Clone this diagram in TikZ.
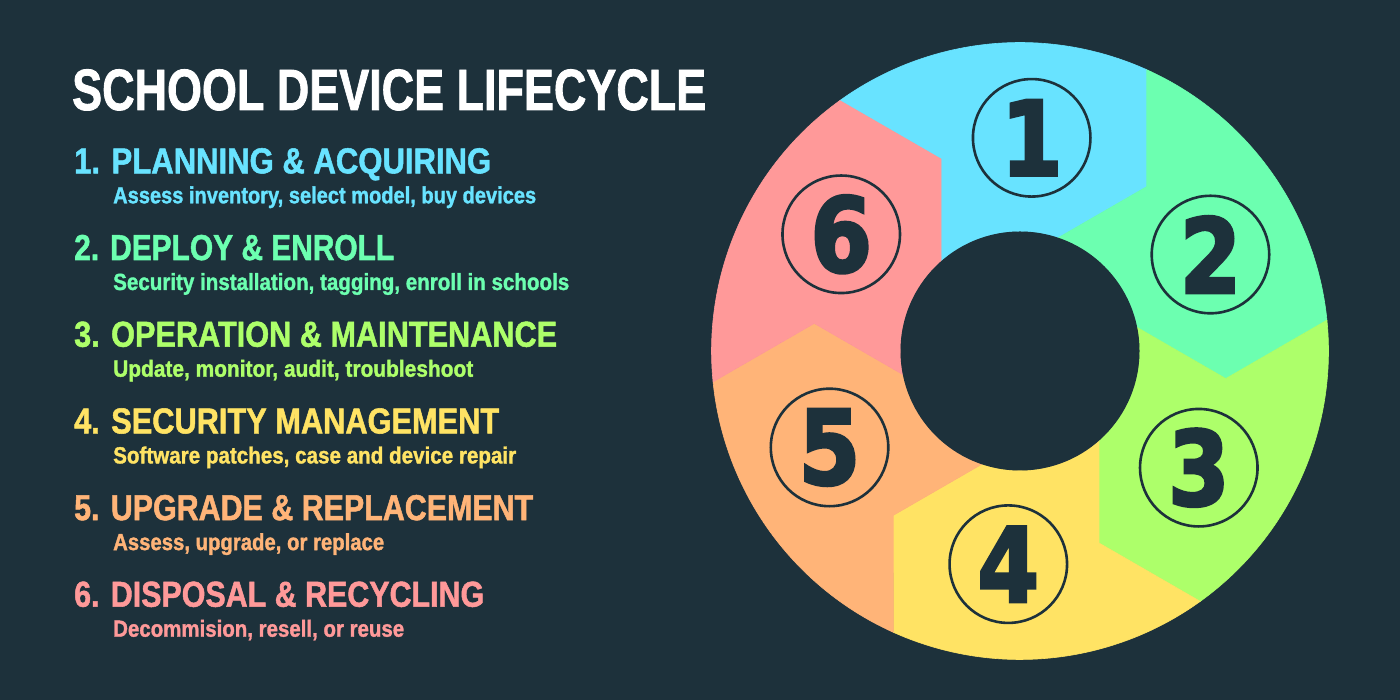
\documentclass[tikz,border=0pt]{standalone}
\usepackage{fontspec}
\usepackage{graphicx}
\usetikzlibrary{calc}
\setmainfont{Liberation Sans}[BoldFeatures={FakeBold=1.5}]
\newfontfamily\digitfont{DejaVu Sans}[BoldFeatures={FakeBold=3}]
\definecolor{bg}{HTML}{1D313B}
\definecolor{c1}{HTML}{68E3FF}
\definecolor{c2}{HTML}{6CFFB0}
\definecolor{c3}{HTML}{ADFF6A}
\definecolor{c4}{HTML}{FFE364}
\definecolor{c5}{HTML}{FFB478}
\definecolor{c6}{HTML}{FF9999}
\newcommand\fitw[2]{\resizebox{#1pt}{\height}{#2}}
\tikzset{
  titletext/.style={anchor=base west, inner sep=0pt, text=white, font=\bfseries\fontsize{58.2}{60}\selectfont},
  headtext/.style={anchor=base west, inner sep=0pt, text=#1, font=\bfseries\fontsize{36}{38}\selectfont},
  subtext/.style={anchor=base west, inner sep=0pt, text=#1, font=\bfseries\fontsize{23.3}{25}\selectfont},
  numcirc/.style={circle, draw=bg, line width=2.6pt, minimum size=117.5pt, inner sep=0pt, text=bg,
     font=\digitfont\bfseries\fontsize{103}{103}\selectfont},
  segment/.style={fill=#1, draw=#1, line width=0.6pt}
}
\begin{document}
\begin{tikzpicture}[x=1pt,y=1pt]
\fill[bg] (0,0) rectangle (1400,700);
\useasboundingbox (0,0) rectangle (1400,700);
\coordinate (C) at (1020,349);
% ring segments
\foreach \k/\col in {1/c1,2/c2,3/c3,4/c4,5/c5,6/c6}{
  \begin{scope}[shift={(C)}, rotate={-60*(\k-1)}]
    \path[segment=\col] (125.74:308.5) arc[start angle=125.74, end angle=65.74, radius=308.5]
      -- (52.36:207.6) -- (71.37:119.5)
      arc[start angle=71.37, end angle=131.37, radius=119.5]
      -- (112.36:207.6) -- cycle;
  \end{scope}
}
\fill[bg] (C) circle (119.5);
% numbered circles
\foreach \k in {1,...,6}{
  \node[numcirc] (n\k) at ($(C)+({86.86-60*(\k-1)}:213.5)$) {\scalebox{0.86}[1]{\k}};
}
% text
\node[titletext] (title) at (72,590) {\fitw{634}{SCHOOL DEVICE LIFECYCLE}};
\node[headtext=c1] (h1) at (74,526.7) {\fitw{417}{1. PLANNING \& ACQUIRING}};
\node[subtext=c1] (s1) at (113,496.7) {\fitw{423}{Assess inventory, select model, buy devices}};
\node[headtext=c2] (h2) at (74,440) {\fitw{320}{2. DEPLOY \& ENROLL}};
\node[subtext=c2] (s2) at (113,410) {\fitw{456}{Security installation, tagging, enroll in schools}};
\node[headtext=c3] (h3) at (74,353.3) {\fitw{483}{3. OPERATION \& MAINTENANCE}};
\node[subtext=c3] (s3) at (113,323.3) {\fitw{360}{Update, monitor, audit, troubleshoot}};
\node[headtext=c4] (h4) at (74,266.6) {\fitw{425}{4. SECURITY MANAGEMENT}};
\node[subtext=c4] (s4) at (113,236.6) {\fitw{403}{Software patches, case and device repair}};
\node[headtext=c5] (h5) at (74,179.9) {\fitw{459}{5. UPGRADE \& REPLACEMENT}};
\node[subtext=c5] (s5) at (113,149.9) {\fitw{271}{Assess, upgrade, or replace}};
\node[headtext=c6] (h6) at (74,93.3) {\fitw{410}{6. DISPOSAL \& RECYCLING}};
\node[subtext=c6] (s6) at (113,63.3) {\fitw{291}{Decommision, resell, or reuse}};
\end{tikzpicture}
\end{document}
